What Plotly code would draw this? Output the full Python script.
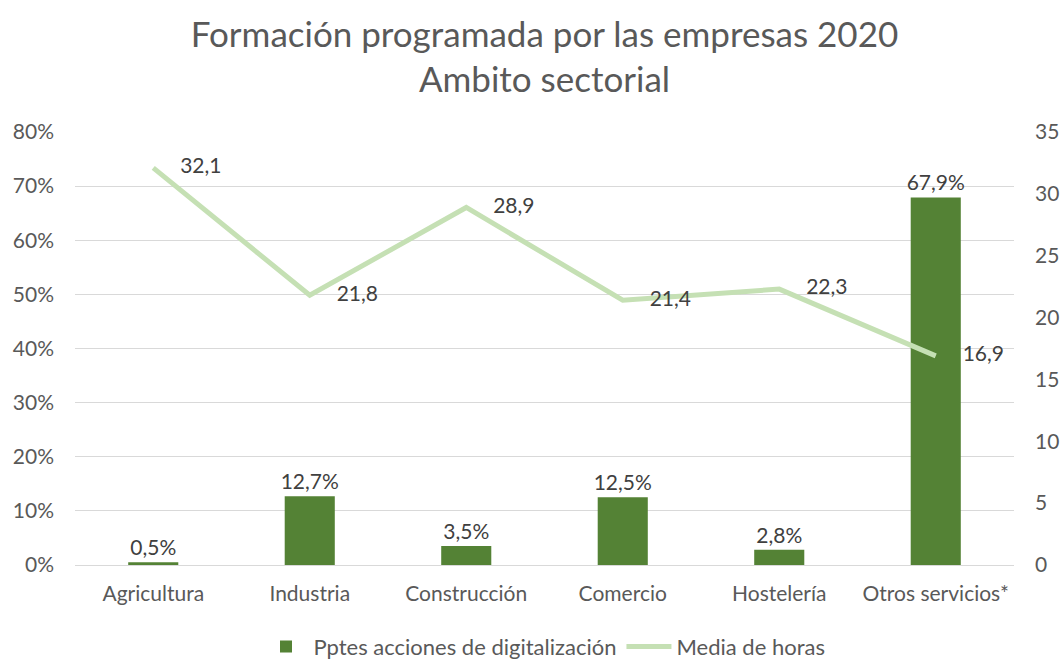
import plotly.graph_objects as go

categories = ["Agricultura", "Industria", "Construcción", "Comercio", "Hostelería", "Otros servicios*"]
pptes_digitalizacion = [0.005, 0.127, 0.035, 0.125, 0.028, 0.679]
media_horas = [32.1, 21.8, 28.9, 21.4, 22.3, 16.9]

FONT = "Lato, Open Sans, sans-serif"
GREY = "#595959"
FS = 21
PAD = "\u00a0" * 5

fig = go.Figure()
fig.add_trace(go.Bar(
    x=categories, y=pptes_digitalizacion,
    name="Pptes acciones de digitalización",
    marker=dict(color="#548235", line=dict(width=0)),
    width=0.32,
    text=[f"{v*100:.1f}%".replace(".", ",") for v in pptes_digitalizacion],
    textposition="outside", cliponaxis=False, constraintext="none",
    textfont=dict(size=FS, color="#404040", family=FONT),
    yaxis="y",
))
fig.add_trace(go.Scatter(
    x=categories, y=media_horas,
    name="Media de horas",
    mode="lines+text",
    line=dict(color="#c5e0b4", width=5),
    text=[PAD + f"{v:.1f}".replace(".", ",") for v in media_horas],
    textposition="middle right",
    textfont=dict(size=FS, color="#404040", family=FONT),
    cliponaxis=False,
    yaxis="y2",
))

fig.update_layout(
    width=1063, height=660,
    paper_bgcolor="white", plot_bgcolor="white",
    margin=dict(l=75, r=49, t=132, b=95, autoexpand=False),
    font=dict(family=FONT, color=GREY, size=FS),
    title=dict(
        text="Formación programada por las empresas 2020<br>Ambito sectorial",
        x=0.5, xanchor="center", xref="paper",
        yref="container", y=0.929, yanchor="bottom",
        font=dict(size=35, color=GREY, family=FONT),
    ),
    xaxis=dict(
        showline=True, linecolor="#d9d9d9", linewidth=1,
        tickfont=dict(size=FS, color=GREY), ticks="", ticklabelstandoff=10,
        automargin=False,
    ),
    yaxis=dict(
        range=[0, 0.8], dtick=0.1, tickformat=".0%",
        showgrid=True, gridcolor="#d9d9d9", gridwidth=1,
        zeroline=False, ticks="", ticklabelstandoff=20,
        tickfont=dict(size=FS, color=GREY), automargin=False,
    ),
    yaxis2=dict(
        range=[0, 35], dtick=5, overlaying="y", side="right",
        showgrid=False, zeroline=False, ticks="", ticklabelstandoff=20,
        tickfont=dict(size=FS, color=GREY), automargin=False,
    ),
    legend=dict(
        orientation="h", x=0.5, xanchor="center", y=-0.14, yanchor="top",
        font=dict(size=22, color=GREY), itemwidth=45,
    ),
    separators=",.",
)

fig.write_html(
    "out.html",
    config={"displayModeBar": False},
    post_script="document.body.style.margin='0';document.body.style.overflow='hidden';",
)
